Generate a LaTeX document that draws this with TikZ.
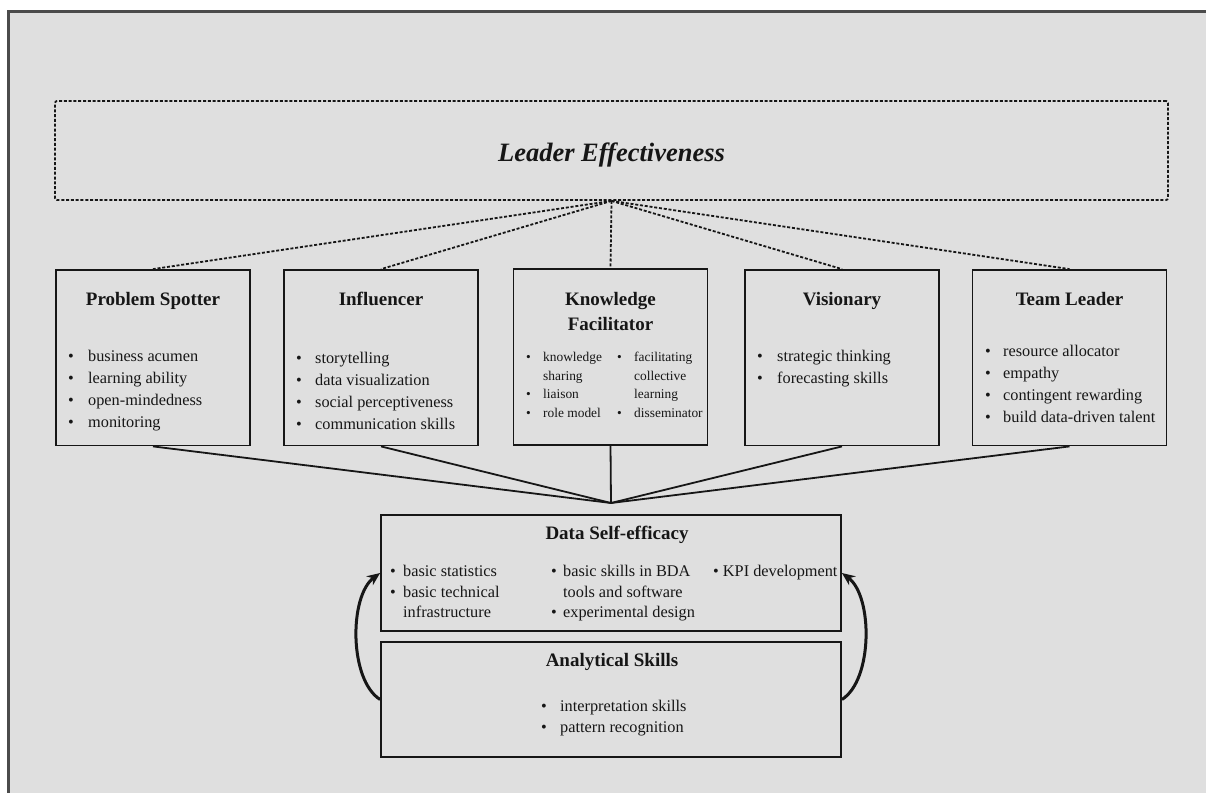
\documentclass[tikz,border=0pt]{standalone}
\usepackage{fontspec}
\setmainfont{Liberation Serif}
\usetikzlibrary{arrows.meta}
\definecolor{bggray}{RGB}{223,223,223}
\definecolor{ink}{RGB}{22,22,22}
\definecolor{framec}{RGB}{75,75,75}
\newcommand{\fsz}[2]{\fontsize{#1}{#2}\selectfont}
\newcommand{\bi}[1][20pt]{\makebox[#1][l]{\textbullet}}
\begin{document}
\begin{tikzpicture}[x=1pt,y=-1pt,
  box/.style={draw=ink, line width=1.8pt, minimum width=194pt, minimum height=175.5pt, inner sep=0pt},
  wbox/.style={draw=ink, line width=1.8pt, minimum width=460pt, minimum height=115.5pt, inner sep=0pt},
  ttl/.style={font=\fsz{19}{25}\bfseries, text=ink, anchor=base, inner sep=0pt, align=center},
  lst/.style={font=\fsz{16.3}{22}, text=ink, anchor=base west, inner sep=0pt},
  dashline/.style={draw=ink, line width=1.8pt, dash pattern=on 3pt off 1.8pt},
  solidline/.style={draw=ink, line width=1.8pt},
  curvearrow/.style={draw=ink, line width=3pt, -{Stealth[length=13pt,width=11pt]}}
]
\useasboundingbox (0,0) rectangle (1206,792);
\fill[white] (0,0) rectangle (1206,792);
\begin{scope}
  \clip (0,0) rectangle (1206,792);
  \draw[framec, line width=2.5pt, fill=bggray] (8.5,11.5) rectangle (1225,815);
\end{scope}

% top dashed box
\node[dashline, rounded corners=2pt, minimum width=1113pt, minimum height=99pt, inner sep=0pt] (le) at (611.5,150.5) {};
\node[anchor=base, inner sep=0pt, font=\fsz{26.5}{30}\bfseries\itshape, text=ink] (leT) at (611.5,161) {Leader Effectiveness};

% five role boxes
\node[box] (ps) at (153,357.75) {};
\node[box] (inf) at (381,357.75) {};
\node[box] (kf) at (610.5,357) {};
\node[box] (vis) at (842,357.75) {};
\node[box] (tl) at (1069.5,357.75) {};

% titles
\node[ttl] (psT) at (153,305) {Problem Spotter};
\node[ttl] (infT) at (381,305) {Influencer};
\node[ttl] (kfT) at (610.5,305) {Knowledge};
\node[ttl] (kfT2) at (610.5,330) {Facilitator};
\node[ttl] (visT) at (842,305) {Visionary};
\node[ttl] (tlT) at (1069.5,305) {Team Leader};

% lists
\node[lst] (psL) at (68,361.5) {\begin{tabular}[t]{@{}l@{}}
\bi business acumen\\ \bi learning ability\\ \bi open-mindedness\\ \bi monitoring\end{tabular}};
\node[lst] (infL) at (296,363.5) {\begin{tabular}[t]{@{}l@{}}
\bi[19pt]storytelling\\ \bi[19pt]data visualization\\ \bi[19pt]social perceptiveness\\ \bi[19pt]communication skills\end{tabular}};
\node[lst, font=\fsz{13.4}{18.7}] (kfL) at (526,361.5) {\begin{tabular}[t]{@{}l@{}l@{}}
\makebox[91pt][l]{\bi[17pt]knowledge} & \bi[17pt]facilitating\\
\makebox[91pt][l]{\hspace{17pt}sharing} & \hspace{17pt}collective\\
\makebox[91pt][l]{\bi[17pt]liaison} & \hspace{17pt}learning\\
\makebox[91pt][l]{\bi[17pt]role model} & \bi[17pt]disseminator\end{tabular}};
\node[lst] (visL) at (757,361.5) {\begin{tabular}[t]{@{}l@{}}
\bi strategic thinking\\ \bi forecasting skills\end{tabular}};
\node[lst] (tlL) at (985,356.5) {\begin{tabular}[t]{@{}l@{}}
\bi[18pt]resource allocator\\ \bi[18pt]empathy\\ \bi[18pt]contingent rewarding\\ \bi[18pt]build data-driven talent\end{tabular}};

% dashed connectors
\draw[dashline] (le.south) -- (ps.north);
\draw[dashline] (le.south) -- (inf.north);
\draw[dashline] (le.south) -- (kf.north);
\draw[dashline] (le.south) -- (vis.north);
\draw[dashline] (le.south) -- (tl.north);

% solid connectors to hub
\coordinate (hub) at (611,503);
\draw[solidline] (ps.south) -- (hub);
\draw[solidline] (inf.south) -- (hub);
\draw[solidline] (kf.south) -- (hub);
\draw[solidline] (vis.south) -- (hub);
\draw[solidline] (tl.south) -- (hub);

% bottom boxes
\node[wbox] (dse) at (611,573) {};
\node[wbox] (as) at (611,699.5) {};
\node[ttl] (dseT) at (617,539) {Data Self-efficacy};
\node[ttl] (asT) at (612,666) {Analytical Skills};
\node[lst, font=\fsz{16.3}{20.5}] (dseL) at (390,576.5) {\begin{tabular}[t]{@{}l@{}l@{}l@{}}
\makebox[161pt][l]{\bi[13pt]basic statistics} & \makebox[162pt][l]{\bi[12pt]basic skills in BDA} & \textbullet\ KPI development\\
\makebox[161pt][l]{\bi[13pt]basic technical} & \makebox[162pt][l]{\hspace{12pt}tools and software} & \\
\makebox[161pt][l]{\hspace{13pt}infrastructure} & \makebox[162pt][l]{\bi[12pt]experimental design} & \end{tabular}};
\node[lst, font=\fsz{16.3}{21}] (asL) at (541,711.5) {\begin{tabular}[t]{@{}l@{}}
\bi[19pt]interpretation skills\\ \bi[19pt]pattern recognition\end{tabular}};

% curved arrows
\draw[curvearrow] (as.west) .. controls (349,680) and (349,596) .. (dse.west);
\draw[curvearrow] (as.east) .. controls (873,680) and (873,596) .. (dse.east);
\end{tikzpicture}
\end{document}
